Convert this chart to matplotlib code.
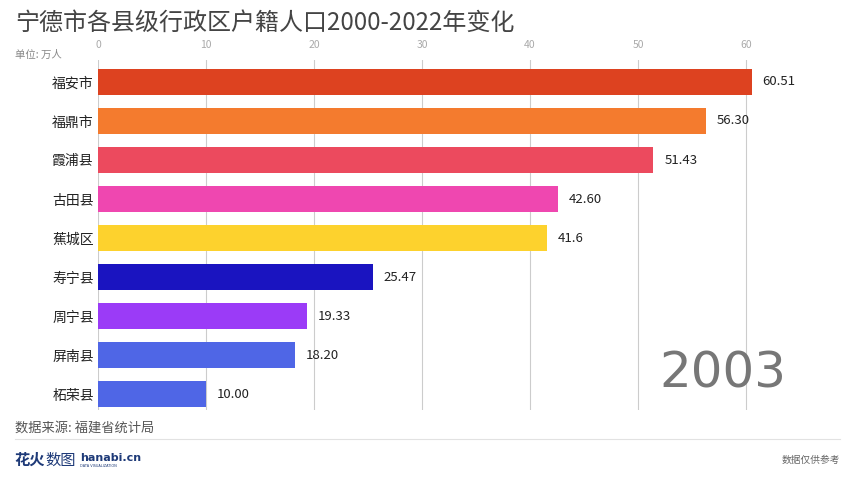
import matplotlib
matplotlib.use("Agg")
import matplotlib.pyplot as plt

plt.rcParams['font.family'] = ['Noto Sans CJK SC', 'DejaVu Sans']

# data for the year 2003 frame
regions = ['福安市', '福鼎市', '霞浦县', '古田县', '蕉城区', '寿宁县', '周宁县', '屏南县', '柘荣县']
values = [60.51, 56.30, 51.43, 42.60, 41.6, 25.47, 19.33, 18.20, 10.00]
value_labels = ['60.51', '56.30', '51.43', '42.60', '41.6', '25.47', '19.33', '18.20', '10.00']
colors = ['#dd4220', '#f47b2e', '#ec4a5e', '#ef47b0', '#fdd22d',
          '#1a14c0', '#9b3bf7', '#4f66e6', '#4f66e6']
ticks = [0, 10, 20, 30, 40, 50, 60]
year = '2003'

W, H = 852, 480
fig = plt.figure(figsize=(W / 100, H / 100), dpi=100)

# axes placed in pixel terms: x 98..800, y 60..410
ax = fig.add_axes([98 / W, 1 - 410 / H, (800 - 98) / W, 350 / H])
ypos = list(range(len(regions)))
ax.barh(ypos, values, height=0.67, color=colors, zorder=3)
ax.set_xlim(0, (800 - 98) / 10.8)
ax.set_ylim(8.41, -0.564)

ax.set_xticks(ticks)
ax.xaxis.tick_top()
ax.tick_params(axis='x', length=0, labelsize=7.5, labelcolor='#aaaaaa', pad=7)
ax.set_yticks(ypos)
ax.set_yticklabels(regions, fontsize=10, color='#222222')
ax.tick_params(axis='y', length=0, pad=3)
ax.grid(axis='x', color='#cccccc', linewidth=0.8, zorder=0)
for s in ax.spines.values():
    s.set_visible(False)

for i, (v, lab) in enumerate(zip(values, value_labels)):
    ax.text(v + 1.0, i, lab, va='center', ha='left', fontsize=9.5, color='#222222', zorder=4)

ax.text(0.98, 0.035, year, transform=ax.transAxes, ha='right', va='bottom',
        fontsize=36, color='#777777', family='DejaVu Sans', zorder=5)

# header
fig.text(15 / W, 1 - 23 / H, '宁德市各县级行政区户籍人口2000-2022年变化', fontsize=17.3,
         color='#444444', va='center', ha='left')
fig.text(15 / W, 1 - 55 / H, '单位: 万人', fontsize=7.5, color='#888888', va='center', ha='left')

# footer
fig.text(15 / W, 1 - 428 / H, '数据来源: 福建省统计局', fontsize=9.5, color='#555555', va='center', ha='left')
fig.add_artist(plt.Line2D([15 / W, 840 / W], [1 - 439 / H, 1 - 439 / H], color='#e2e2e2', linewidth=0.8))
fig.text(14 / W, 1 - 460 / H, '花火', fontsize=11, color='#1e3a78', weight='bold', va='center', ha='left')
fig.text(45 / W, 1 - 460 / H, '数图', fontsize=11, color='#1e3a78', va='center', ha='left')
fig.text(80 / W, 1 - 458 / H, 'hanabi.cn', fontsize=8, color='#1e3a78', weight='bold',
         va='center', ha='left', family='DejaVu Sans')
fig.text(80 / W, 1 - 466 / H, 'DATA VISUALIZATION', fontsize=2.5, color='#1e3a78',
         va='center', ha='left', family='DejaVu Sans')
fig.text(840 / W, 1 - 460 / H, '数据仅供参考', fontsize=7, color='#666666', va='center', ha='right')

fig.savefig('out.png', dpi=100)
